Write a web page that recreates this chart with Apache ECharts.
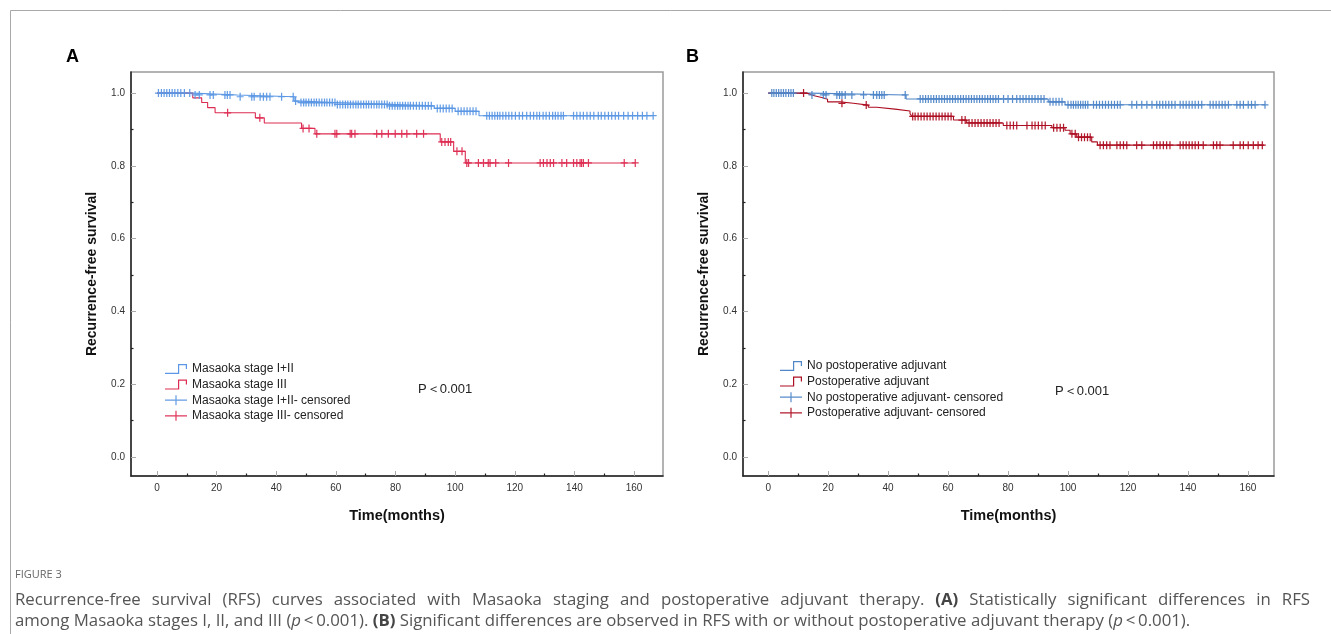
<!DOCTYPE html>
<html>
<head>
<meta charset="utf-8">
<script src="https://cdn.jsdelivr.net/npm/echarts@6/dist/echarts.min.js"></script>
<style>
html,body{margin:0;padding:0;background:#fff;}
#chart{width:1331px;height:634px;}
</style>
</head>
<body>
<div id="chart"></div>
<script>
// ---------- Data ----------
const xTickLabels = [0, 20, 40, 60, 80, 100, 120, 140, 160];
const xMinorTicks = [10, 30, 50, 70, 90, 110, 130, 150];
const yTickLabels = [0, 0.2, 0.4, 0.6, 0.8, 1.0];
const yMinorTicks = [0.1, 0.3, 0.5, 0.7, 0.9];

// Panel A: Masaoka stage I+II (steps)
const aStage12Time = [0, 12, 27, 46, 48, 60, 78, 93, 100, 108, 166.4];
const aStage12Surv = [1.0, 0.995, 0.99, 0.978, 0.974, 0.969, 0.965, 0.958, 0.95, 0.938, 0.938];
const aStage12Censored = [0.5,1.5,2.4,3.3,4.2,5.1,6,7,8,9.2,11,12.8,14.2,17.8,18.9,22.8,23.6,24.5,27.9,31.8,32.6,34.6,35.7,36.8,37.9,41.8,45.7,46.5,
  48.3,49.2,50,50.9,51.8,52.7,53.5,54.4,55.3,56.2,57,57.9,58.8,59.7,60.5,61.4,62.3,63.2,64,64.9,65.8,66.7,67.5,68.4,69.3,70.2,71,71.9,72.8,73.7,74.5,75.4,76.3,77.2,78,78.9,79.8,80.7,81.5,82.4,83.3,84.2,85,
  86,87,88,89,90,91,92,94,95,96,97,98,99,101,102,103,104,105,106,107,
  110.6,111.5,112.4,113.3,114.2,115,116,117,118,119,120.2,121.5,122.6,124,125.2,126.3,127.4,128.3,129.5,130.5,131.6,132.7,133.6,134.5,135.5,136.3,
  139.7,140.8,141.9,143,144.2,145.3,146.5,148,149,150.2,151.4,152.5,153.7,154.8,156.5,158,159.5,161.2,162.8,164.3,166.4];

// Panel A: Masaoka stage III (steps)
const aStage3Time = [0, 12, 15, 17, 19.5, 33, 36, 48.5, 53, 95, 99.5, 103.4, 160.4];
const aStage3Surv = [1.0, 0.987, 0.974, 0.96, 0.946, 0.932, 0.918, 0.903, 0.888, 0.866, 0.84, 0.808, 0.808];
const aStage3Censored = [23.7,34.5,49,51,53.6,59.7,60.3,64.8,65.3,66.4,73.7,75.4,77.6,79.9,82.1,83.8,87.1,89.4,95.5,96.6,97.7,98.5,100.6,102.3,
  103.9,104.5,107.8,109.5,111.1,111.7,113.6,117.9,128.5,129.6,130.8,131.9,133,135.8,137.4,139.7,140.8,141.9,142.4,143,144.7,156.7,160.4];

// Panel B: No postoperative adjuvant (steps)
const bNoAdjTime = [0, 14, 46, 93.4, 99, 165.7];
const bNoAdjSurv = [1.0, 0.995, 0.984, 0.976, 0.968, 0.968];
const bNoAdjCensored = [1.2,1.9,2.7,3.5,4.3,5.1,5.9,6.8,7.6,8.4,14.6,18.4,19.3,22.9,23.8,24.6,25.7,27.9,31.8,35.1,36.2,37.1,37.9,38.7,45.7,
  50.7,51.6,52.5,53.4,54.3,55.2,56.1,57,57.9,58.8,59.7,60.6,61.5,62.4,63.3,64.2,65.1,66,66.9,67.8,68.7,69.6,70.5,71.4,72.3,73.2,74.1,75,75.9,76.8,78.5,80,81.5,82.9,
  84,85,86,87,88,89,90,91,92,94,95,96,97,98,100,101,101.8,102.6,103.4,104.2,105,105.8,106.6,108.5,109.5,110.5,111.5,112.5,113.5,114.5,115.5,116.5,117.4,
  121.3,122.9,124.6,126.3,128,129.6,130.6,131.6,132.6,133.6,134.6,135.7,137.4,138.4,139.4,140.4,141.4,142.4,143.5,144.6,
  147.4,148.4,149.4,150.4,151.4,152.4,153.5,156.3,157.4,158.5,160.1,161.2,162.4,165.7];

// Panel B: Postoperative adjuvant (steps)
const bAdjTime = [0, 12.9, 14.6, 15.7, 17.9, 19.8, 24, 28.4, 33.4, 36.2, 42.3, 47.3, 47.9, 61.8, 66.2, 78.4, 94.6, 99, 100.7, 102.9, 107.9, 109.8, 165.4];
const bAdjSurv = [1.0, 0.995, 0.992, 0.988, 0.983, 0.976, 0.972, 0.967, 0.961, 0.956, 0.951, 0.944, 0.936, 0.926, 0.918, 0.911, 0.905, 0.898, 0.888, 0.879, 0.866, 0.857, 0.857];
const bAdjCensored = [11.8,24.6,32.7,48.2,49,50,51,52,53,54,55,56,57,58,59,60,61,64.6,65.7,67,68,69,70,71,72,73,74,75,76,77,79.6,80.7,81.8,82.9,
  86.3,88,89,90.1,91.3,92.4,95.2,96.3,97.4,98.5,101.3,102.4,103.5,104.5,105.5,106.5,107.4,
  110.7,111.8,112.9,114,116.3,117.4,118.5,119.6,122.9,124.6,128.5,129.6,130.7,131.8,132.9,134,137.4,138.4,139.4,140.4,141.4,142.4,143.5,145.1,
  148.5,149.6,150.7,155.1,157.4,158.5,160.1,161.8,163.4,164.8];

// ---------- helpers ----------
function stepData(t, s) { return t.map((x, i) => [x, s[i]]); }
function survAt(t, s, c) { let v = s[0]; for (let i = 0; i < t.length; i++) { if (t[i] <= c) v = s[i]; } return v; }
function censorData(cs, t, s) { return cs.map(c => [c, survAt(t, s, c)]); }

const COL = { aBlue: '#5b97e4', aRed: '#dd2c52', bBlue: '#4f86c8', bRed: '#ad0f22' };
const stepIcon = 'path://M0,8.8h13v-8.8h9v5h-1.2v-3.8h-6.6v8.8h-14.2z';
const crossIcon = 'path://M0,4.4h22v1.2h-22z M10.4,0h1.2v10h-1.2z';
const crossSym = 'path://M3.3,0h1.4v9h-1.4z M0,3.8h8v1.4h-8z';
const FONT = 'Arial, "Liberation Sans", sans-serif';
const CAP_FONT = '"Open Sans", sans-serif';
const CAP_SIZE = 16.8;

const grids = [
  { left: 131, top: 72, width: 532, height: 404, xmin: -8.7, xmax: 169.7 },
  { left: 743, top: 72, width: 531, height: 404, xmin: -8.4, xmax: 168.7 }
];

const option = {
  backgroundColor: '#fff',
  animation: false,
  textStyle: { fontFamily: FONT },
  grid: grids.map(g => ({ left: g.left, top: g.top, width: g.width, height: g.height, show: true, borderColor: '#9a9a9a', borderWidth: 1.5, backgroundColor: '#fff' })),
  xAxis: [],
  yAxis: [],
  legend: [
    {
      left: 165, top: 363, padding: 0, orient: 'vertical', itemWidth: 22, itemHeight: 10, itemGap: 3.6, selectedMode: false,
      textStyle: { fontSize: 12, color: '#222', fontFamily: FONT },
      itemStyle: { borderWidth: 0 },
      data: [
        { name: 'Masaoka stage I+II', icon: stepIcon },
        { name: 'Masaoka stage III', icon: stepIcon },
        { name: 'Masaoka stage I+II- censored', icon: crossIcon },
        { name: 'Masaoka stage III- censored', icon: crossIcon }
      ]
    },
    {
      left: 780, top: 360, padding: 0, orient: 'vertical', itemWidth: 22, itemHeight: 10, itemGap: 3.6, selectedMode: false,
      textStyle: { fontSize: 12, color: '#222', fontFamily: FONT },
      itemStyle: { borderWidth: 0 },
      data: [
        { name: 'No postoperative adjuvant', icon: stepIcon },
        { name: 'Postoperative adjuvant', icon: stepIcon },
        { name: 'No postoperative adjuvant- censored', icon: crossIcon },
        { name: 'Postoperative adjuvant- censored', icon: crossIcon }
      ]
    }
  ],
  series: [],
  graphic: []
};

grids.forEach((g, gi) => {
  option.xAxis.push({
    type: 'value', gridIndex: gi, min: g.xmin, max: g.xmax, position: 'bottom',
    name: 'Time(months)', nameLocation: 'middle', nameGap: 32,
    nameTextStyle: { fontSize: 14.5, fontWeight: 'bold', color: '#111', fontFamily: FONT },
    axisLine: { show: true, onZero: false, lineStyle: { color: '#222', width: 1.5 } },
    axisTick: { show: true, inside: true, length: 5, customValues: xTickLabels, lineStyle: { color: '#aaa', width: 1 } },
    axisLabel: { show: true, customValues: xTickLabels, margin: 7, fontSize: 10, color: '#333', fontFamily: FONT },
    splitLine: { show: false }
  });
  option.xAxis.push({
    type: 'value', gridIndex: gi, min: g.xmin, max: g.xmax, position: 'bottom',
    axisLine: { show: false, onZero: false },
    axisTick: { show: true, inside: true, length: 2.5, customValues: xMinorTicks, lineStyle: { color: '#222', width: 1.2 } },
    axisLabel: { show: false },
    splitLine: { show: false }
  });
  option.yAxis.push({
    type: 'value', gridIndex: gi, min: -0.052, max: 1.058, position: 'left',
    name: 'Recurrence-free survival', nameLocation: 'middle', nameGap: 32, nameRotate: 90,
    nameTextStyle: { fontSize: 14, fontWeight: 'bold', color: '#111', fontFamily: FONT },
    axisLine: { show: true, onZero: false, lineStyle: { color: '#222', width: 1.5 } },
    axisTick: { show: true, inside: true, length: 5, customValues: yTickLabels, lineStyle: { color: '#aaa', width: 1 } },
    axisLabel: { show: true, customValues: yTickLabels, margin: 6, fontSize: 10, color: '#333', fontFamily: FONT, formatter: v => Number(v).toFixed(1) },
    splitLine: { show: false }
  });
  option.yAxis.push({
    type: 'value', gridIndex: gi, min: -0.052, max: 1.058, position: 'left',
    axisLine: { show: false, onZero: false },
    axisTick: { show: true, inside: true, length: 2.5, customValues: yMinorTicks, lineStyle: { color: '#222', width: 1.2 } },
    axisLabel: { show: false },
    splitLine: { show: false }
  });
});

function lineSeries(name, xi, yi, t, s, color) {
  return { name, type: 'line', xAxisIndex: xi, yAxisIndex: yi, step: 'end', showSymbol: false, symbol: 'none',
    data: stepData(t, s), color, itemStyle: { color }, lineStyle: { color, width: 1.1 }, silent: true, z: 3 };
}
function censorSeries(name, xi, yi, cs, t, s, color) {
  return { name, type: 'scatter', xAxisIndex: xi, yAxisIndex: yi, symbol: crossSym, symbolSize: [7, 8],
    data: censorData(cs, t, s), color, itemStyle: { color, opacity: 0.95 }, silent: true, z: 4 };
}

option.series.push(
  lineSeries('Masaoka stage I+II', 0, 0, aStage12Time, aStage12Surv, COL.aBlue),
  lineSeries('Masaoka stage III', 0, 0, aStage3Time, aStage3Surv, COL.aRed),
  censorSeries('Masaoka stage I+II- censored', 0, 0, aStage12Censored, aStage12Time, aStage12Surv, COL.aBlue),
  censorSeries('Masaoka stage III- censored', 0, 0, aStage3Censored, aStage3Time, aStage3Surv, COL.aRed),
  lineSeries('No postoperative adjuvant', 2, 2, bNoAdjTime, bNoAdjSurv, COL.bBlue),
  lineSeries('Postoperative adjuvant', 2, 2, bAdjTime, bAdjSurv, COL.bRed),
  censorSeries('No postoperative adjuvant- censored', 2, 2, bNoAdjCensored, bNoAdjTime, bNoAdjSurv, COL.bBlue),
  censorSeries('Postoperative adjuvant- censored', 2, 2, bAdjCensored, bAdjTime, bAdjSurv, COL.bRed)
);

// ---------- caption (first line justified like the source page) ----------
const captionLine1 = [
  { t: 'Recurrence-free survival (RFS) curves associated with Masaoka staging and postoperative adjuvant therapy.', b: false },
  { t: '(A)', b: true },
  { t: 'Statistically significant differences in RFS', b: false }
];
const measureCtx = document.createElement('canvas').getContext('2d');
function measure(text, bold) {
  measureCtx.font = (bold ? 'bold ' : '') + CAP_SIZE + 'px ' + CAP_FONT;
  return measureCtx.measureText(text).width;
}
const capWords = [];
captionLine1.forEach(seg => seg.t.split(' ').forEach(w => capWords.push({ w, b: seg.b })));
const capLeft = 15, capRight = 1310;
const totalW = capWords.reduce((acc, o) => acc + measure(o.w, o.b), 0);
const gap = (capRight - capLeft - totalW) / (capWords.length - 1);
let cx = capLeft;
const captionGraphics = capWords.map(o => {
  const el = { type: 'text', x: cx, y: 600, silent: true, style: { text: o.w, fontSize: CAP_SIZE, fontFamily: CAP_FONT, fontWeight: o.b ? 'bold' : 'normal', fill: o.b ? '#444' : '#555', verticalAlign: 'middle', align: 'left' } };
  cx += measure(o.w, o.b) + gap;
  return el;
});

option.graphic = [
  { type: 'polyline', silent: true, shape: { points: [[10.5, 634], [10.5, 10.5], [1331, 10.5]] }, style: { stroke: '#a8a8a8', lineWidth: 1, fill: null } },
  { type: 'text', left: 66, top: 48, style: { text: 'A', fontSize: 18, fontWeight: 'bold', fill: '#000', fontFamily: FONT } },
  { type: 'text', left: 686, top: 48, style: { text: 'B', fontSize: 18, fontWeight: 'bold', fill: '#000', fontFamily: FONT } },
  { type: 'text', left: 418, top: 383, style: { text: 'P\uFF1C0.001', fontSize: 13, fill: '#222', fontFamily: FONT } },
  { type: 'text', left: 1055, top: 385, style: { text: 'P\uFF1C0.001', fontSize: 13, fill: '#222', fontFamily: FONT } },
  { type: 'text', left: 15, top: 569, style: { text: 'FIGURE 3', fontSize: 11, fill: '#666', fontFamily: CAP_FONT } },
  ...captionGraphics,
  { type: 'text', x: 15, y: 621, silent: true, style: {
      text: 'among Masaoka stages I, II, and III ({i|p}\u2009<\u20090.001). {b|(B)} Significant differences are observed in RFS with or without postoperative adjuvant therapy ({i|p}\u2009<\u20090.001).',
      fontSize: CAP_SIZE, fill: '#555', fontFamily: CAP_FONT, verticalAlign: 'middle', align: 'left',
      rich: {
        b: { fontWeight: 'bold', fontSize: CAP_SIZE, fill: '#444', fontFamily: CAP_FONT },
        i: { fontStyle: 'italic', fontSize: CAP_SIZE, fill: '#555', fontFamily: CAP_FONT }
      }
  } }
];

const chart = echarts.init(document.getElementById('chart'), null, { renderer: 'canvas' });
chart.setOption(option);
</script>
</body>
</html>
